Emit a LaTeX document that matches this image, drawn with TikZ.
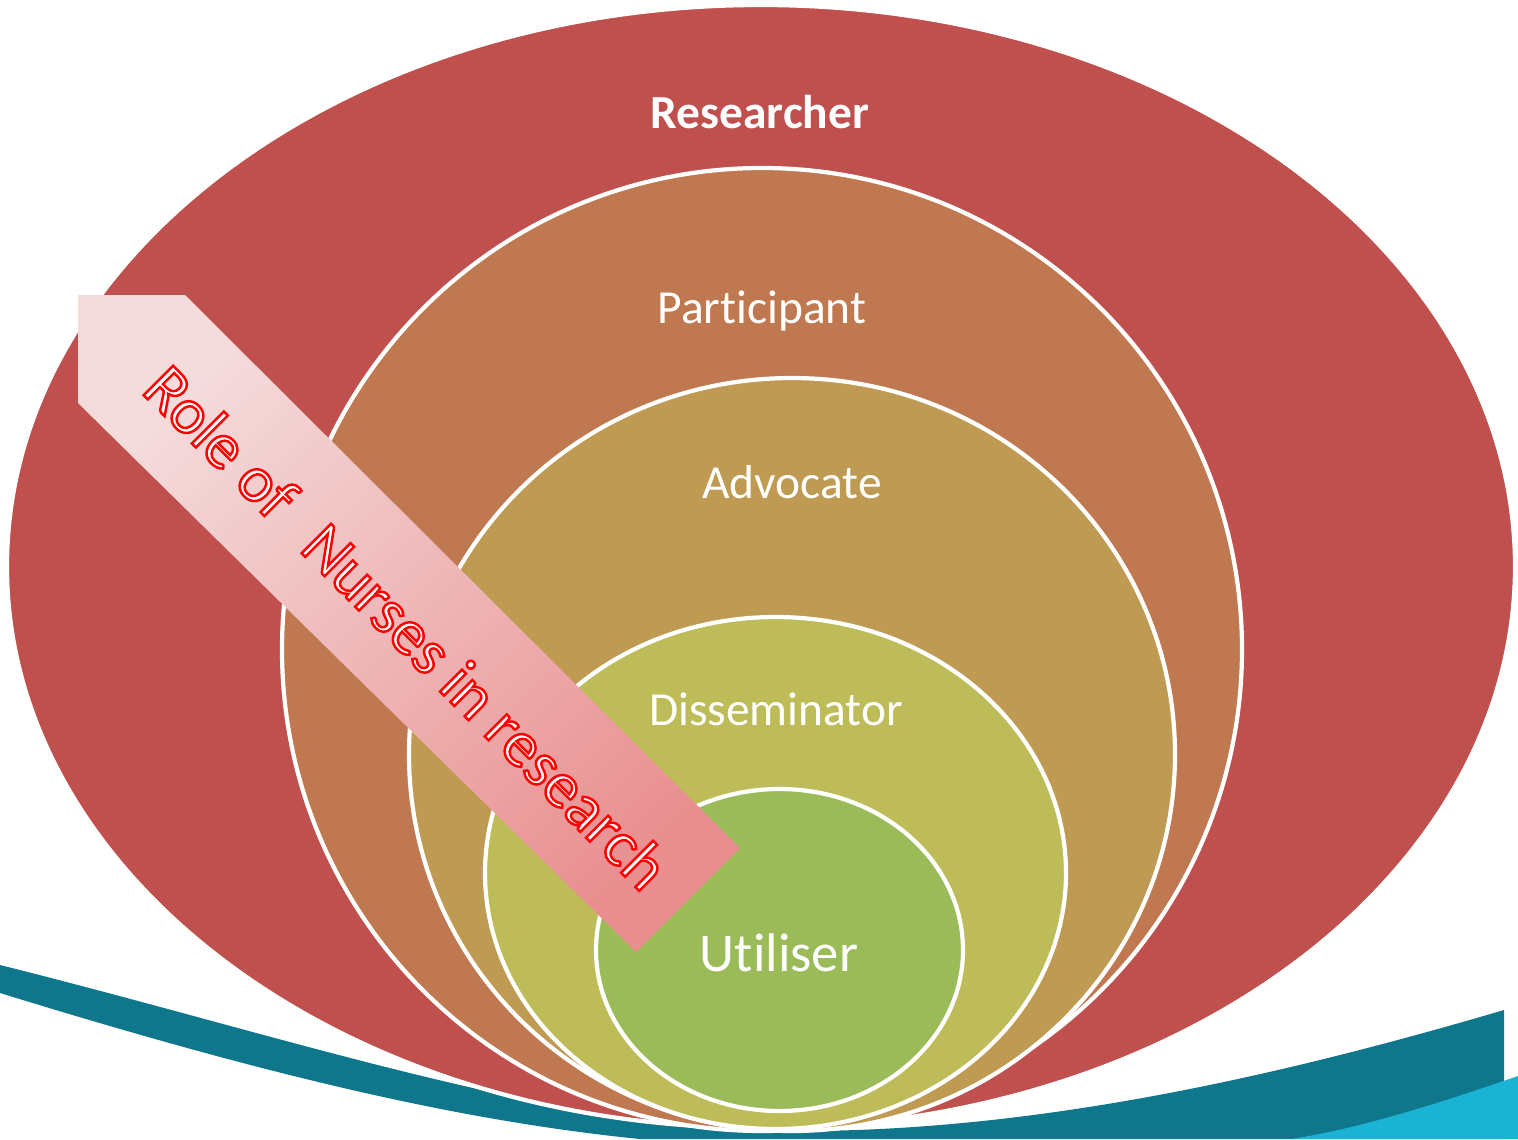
\documentclass[tikz,border=0pt]{standalone}
\usepackage{fontspec}
\setmainfont{Carlito}[Ligatures=NoCommon]
\usetikzlibrary{calc}
\definecolor{researcherc}{HTML}{C0504D}
\definecolor{participantc}{HTML}{BF7850}
\definecolor{advocatec}{HTML}{BF9A52}
\definecolor{disseminatorc}{HTML}{BDBC58}
\definecolor{utiliserc}{HTML}{9BBB59}
\definecolor{wavedark}{HTML}{0F778C}
\definecolor{wavelight}{HTML}{1BB3D3}
\definecolor{arrowlight}{HTML}{F4DCDD}
\definecolor{arrowdark}{HTML}{E98F90}
\newcommand\outlined{\special{pdf:literal direct 2 Tr 0.7 w 1 0 0 RG}} % white fill, red outline

\begin{document}
\begin{tikzpicture}[x=0.01cm,y=-0.01cm,
    ring/.style={fill=#1,draw=white,line width=1.2pt},
    rolelbl/.style={text=white,font=\fontsize{13.5}{16}\selectfont},
    roletxt/.style={rotate=-45,text=white,font=\fontsize{18.5}{22}\selectfont}]
\useasboundingbox (0,0) rectangle (1518,1139);
% wave at the bottom
\fill[wavedark] (0,965) .. controls (300,1040) and (560,1131) .. (800,1131)
    .. controls (1050,1131) and (1300,1070) .. (1504,1010) -- (1504,1139) -- (640,1139)
    .. controls (450,1120) and (250,1070) .. (0,993) -- cycle;
\fill[wavelight] (1518,1076) .. controls (1420,1110) and (1350,1130) .. (1291,1139) -- (1518,1139) -- cycle;
% nested rings, outer to inner
\draw[ring=researcherc] (761,566.5) ellipse [x radius=754, y radius=561.5];
\draw[ring=participantc] (762,649.5) ellipse [x radius=480, y radius=481.5];
\draw[ring=advocatec] (792,754.5) ellipse [x radius=383, y radius=376.5];
\draw[ring=disseminatorc] (775.5,873) ellipse [x radius=290.5, y radius=256];
\draw[ring=utiliserc] (779.5,950) ellipse [x radius=183.5, y radius=161];
\node[rolelbl,font=\fontsize{13.5}{16}\selectfont\bfseries] (researcher) at (760,112) {Researcher};
\node[rolelbl] (participant) at (762,311) {Participant};
\node[rolelbl] (advocate) at (792,482) {Advocate};
\node[rolelbl] (disseminator) at (776,709) {Disseminator};
\node[rolelbl,font=\fontsize{15.5}{18}\selectfont] (utiliser) at (779,953) {Utiliser};
% arrow pointing up-left
\shade[top color=arrowlight,bottom color=arrowdark,shading angle=45]
    (78,295) -- (185,295) -- (740,848) -- (636,952) -- (78,403) -- cycle;
\node[roletxt] (role) at (407,627) {\outlined Role of\hspace{0.6em}Nurses in research};
\end{tikzpicture}
\end{document}
